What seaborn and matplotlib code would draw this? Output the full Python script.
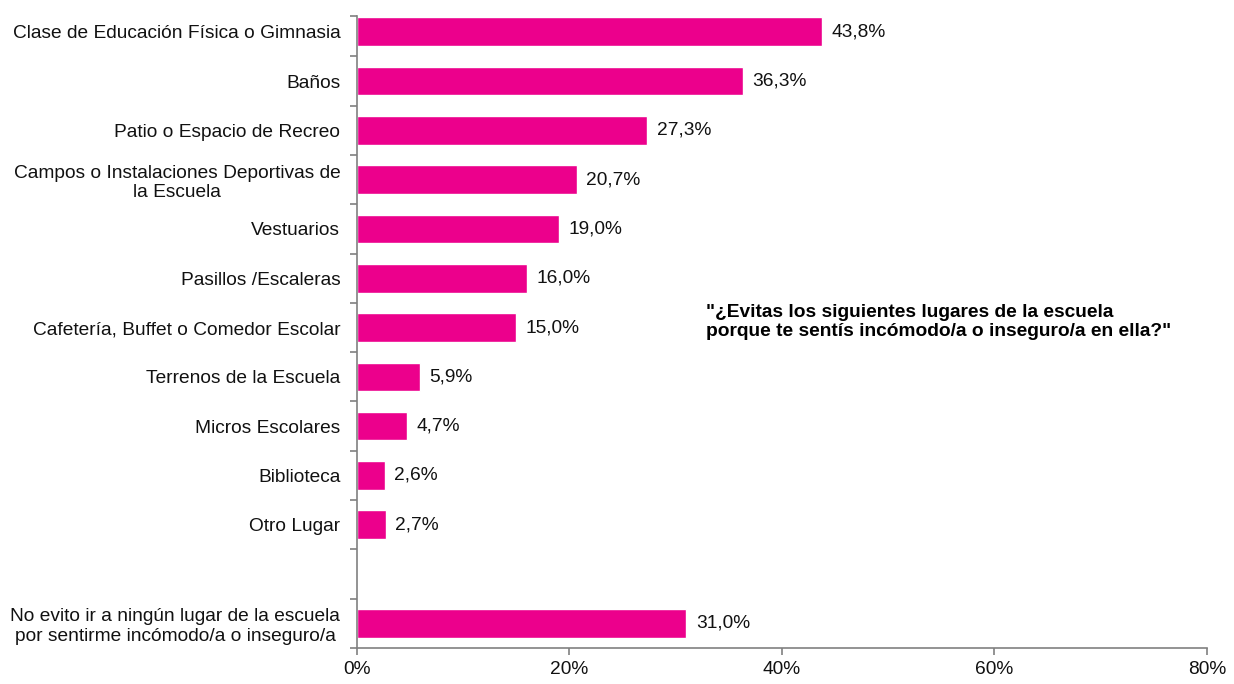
import numpy as np
import pandas as pd
import matplotlib
matplotlib.use("Agg")
import matplotlib.pyplot as plt
import seaborn as sns
from matplotlib.ticker import FixedLocator, FuncFormatter

# data
lugares = [
    "Clase de Educación Física o Gimnasia",
    "Baños",
    "Patio o Espacio de Recreo",
    "Campos o Instalaciones Deportivas de\nla Escuela",
    "Vestuarios",
    "Pasillos /Escaleras",
    "Cafetería, Buffet o Comedor Escolar",
    "Terrenos de la Escuela",
    "Micros Escolares",
    "Biblioteca",
    "Otro Lugar",
    "No evito ir a ningún lugar de la escuela\npor sentirme incómodo/a o inseguro/a",
]
porcentajes = [43.8, 36.3, 27.3, 20.7, 19.0, 16.0, 15.0, 5.9, 4.7, 2.6, 2.7, 31.0]
orden = lugares[:11] + [" "] + lugares[11:]
x_ticks = [0, 20, 40, 60, 80]

df = pd.DataFrame({"lugar": lugares, "pct": porcentajes})

sns.set_style("white")
plt.rcParams["font.family"] = ["Liberation Sans", "DejaVu Sans"]

fig = plt.figure(figsize=(12.34, 6.84), dpi=100)
ax = fig.add_axes([0.2893, 0.0526, 0.6888, 0.9371])

sns.barplot(data=df, x="pct", y="lugar", order=orden, color="#EC008C",
            width=0.58, saturation=1, orient="h", ax=ax)

for i, lugar in enumerate(orden):
    if lugar in lugares:
        v = porcentajes[lugares.index(lugar)]
        ax.text(v + 0.9, i, f"{v:.1f}%".replace(".", ","), va="center",
                ha="left", fontsize=13.8, color="#111111")

n = len(orden)
ax.set_xlim(0, 80)
ax.set_ylim(n - 0.5, -0.5)
ax.xaxis.set_major_locator(FixedLocator(x_ticks))
ax.xaxis.set_major_formatter(FuncFormatter(lambda v, p: f"{v:.0f}%"))
# the vertical axis starts a bit below the top of the first slot
top = -0.32
ax.spines["left"].set_bounds(top, n - 0.5)
ax.yaxis.set_minor_locator(FixedLocator([top] + list(np.arange(0.5, n, 1.0))))

ax.tick_params(axis="y", which="major", length=0, pad=12, labelsize=13.8)
ax.tick_params(axis="y", which="minor", length=5, width=1.2, color="#808080", direction="out", left=True)
ax.tick_params(axis="x", which="major", length=5, width=1.2, color="#808080", direction="out",
               bottom=True, labelsize=13.8, pad=4)
for lab in ax.get_yticklabels():
    lab.set_multialignment("center")
    lab.set_color("#111111")
for lab in ax.get_xticklabels():
    lab.set_color("#111111")

for s in ["top", "right"]:
    ax.spines[s].set_visible(False)
for s in ["left", "bottom"]:
    ax.spines[s].set_color("#808080")
    ax.spines[s].set_linewidth(1.2)

ax.set_xlabel("")
ax.set_ylabel("")

ax.text(0.4106, 0.5086, "\"¿Evitas los siguientes lugares de la escuela\nporque te sentís incómodo/a o inseguro/a en ella?\"",
        transform=ax.transAxes, fontsize=13.8, fontweight="bold", ha="left", va="center",
        color="#000000", linespacing=1.2)

fig.savefig("out.png", dpi=100)
